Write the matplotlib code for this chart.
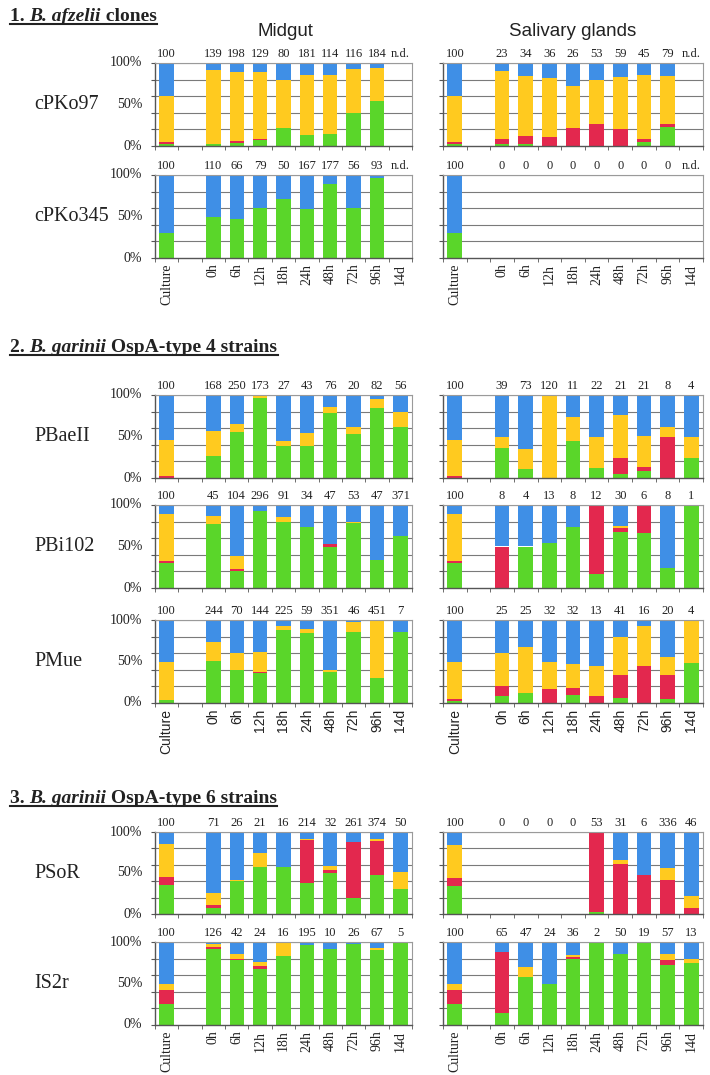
import matplotlib
matplotlib.use('Agg')
import matplotlib.pyplot as plt
from matplotlib.lines import Line2D
import numpy as np

nan = np.nan
categories = ['Culture', '0h', '6h', '12h', '18h', '24h', '48h', '72h', '96h', '14d']
slots = [0, 2, 3, 4, 5, 6, 7, 8, 9, 10]

# ---- 1. B. afzelii clones ----
cPKo97_mg_n = ['100', '139', '198', '129', '80', '181', '114', '116', '184', 'n.d.']
cPKo97_mg_green = [2, 2, 4, 7, 22, 13, 14, 40, 54, nan]
cPKo97_mg_red = [3, 0, 2, 2, 0, 0, 0, 0, 0, nan]
cPKo97_mg_yellow = [55, 90, 83, 80, 58, 73, 71, 53, 40, nan]
cPKo97_mg_blue = [40, 8, 11, 11, 20, 14, 15, 7, 6, nan]

cPKo97_sg_n = ['100', '23', '34', '36', '26', '53', '59', '45', '79', 'n.d.']
cPKo97_sg_green = [3, 3, 2, 0, 0, 0, 0, 5, 23, nan]
cPKo97_sg_red = [2, 6, 10, 11, 22, 27, 21, 3, 3, nan]
cPKo97_sg_yellow = [55, 81, 72, 71, 50, 53, 62, 77, 58, nan]
cPKo97_sg_blue = [40, 10, 16, 18, 28, 20, 17, 15, 16, nan]

cPKo345_mg_n = ['100', '110', '66', '79', '50', '167', '177', '56', '93', 'n.d.']
cPKo345_mg_green = [30, 49, 47, 60, 71, 59, 89, 60, 96, nan]
cPKo345_mg_red = [0, 0, 0, 0, 0, 0, 0, 0, 0, nan]
cPKo345_mg_yellow = [0, 0, 0, 0, 0, 0, 0, 0, 0, nan]
cPKo345_mg_blue = [70, 51, 53, 40, 29, 41, 11, 40, 4, nan]

cPKo345_sg_n = ['100', '0', '0', '0', '0', '0', '0', '0', '0', 'n.d.']
cPKo345_sg_green = [30, nan, nan, nan, nan, nan, nan, nan, nan, nan]
cPKo345_sg_red = [0, nan, nan, nan, nan, nan, nan, nan, nan, nan]
cPKo345_sg_yellow = [0, nan, nan, nan, nan, nan, nan, nan, nan, nan]
cPKo345_sg_blue = [70, nan, nan, nan, nan, nan, nan, nan, nan, nan]

# ---- 2. B. garinii OspA-type 4 strains ----
PBaeII_mg_n = ['100', '168', '250', '173', '27', '43', '76', '20', '82', '56']
PBaeII_mg_green = [0, 26, 55, 96, 39, 39, 78, 53, 84, 62]
PBaeII_mg_red = [3, 0, 0, 0, 0, 0, 0, 0, 0, 0]
PBaeII_mg_yellow = [43, 31, 10, 4, 6, 15, 8, 9, 11, 18]
PBaeII_mg_blue = [54, 43, 35, 0, 55, 46, 14, 38, 5, 20]

PBaeII_sg_n = ['100', '39', '73', '120', '11', '22', '21', '21', '8', '4']
PBaeII_sg_green = [0, 36, 11, 0, 45, 12, 5, 8, 0, 24]
PBaeII_sg_red = [3, 0, 0, 0, 0, 0, 19, 5, 50, 0]
PBaeII_sg_yellow = [43, 13, 24, 100, 28, 37, 52, 38, 12, 26]
PBaeII_sg_blue = [54, 51, 65, 0, 27, 51, 24, 49, 38, 50]

PBi102_mg_n = ['100', '45', '104', '296', '91', '34', '47', '53', '47', '371']
PBi102_mg_green = [30, 77, 21, 93, 80, 73, 49, 78, 34, 63]
PBi102_mg_red = [2, 0, 2, 0, 0, 0, 4, 0, 0, 0]
PBi102_mg_yellow = [57, 10, 16, 0, 6, 0, 0, 2, 0, 0]
PBi102_mg_blue = [11, 13, 61, 7, 14, 27, 47, 20, 66, 37]

PBi102_sg_n = ['100', '8', '4', '13', '8', '12', '30', '6', '8', '1']
PBi102_sg_green = [30, 0, 50, 54, 74, 17, 68, 66, 24, 100]
PBi102_sg_red = [2, 50, 0, 0, 0, 83, 4, 34, 0, 0]
PBi102_sg_yellow = [57, 0, 0, 0, 0, 0, 3, 0, 0, 0]
PBi102_sg_blue = [11, 50, 50, 46, 26, 0, 25, 0, 76, 0]

PMue_mg_n = ['100', '244', '70', '144', '225', '59', '351', '46', '451', '7']
PMue_mg_green = [4, 51, 40, 36, 88, 84, 37, 86, 30, 85]
PMue_mg_red = [0, 0, 0, 1, 0, 0, 0, 0, 0, 0]
PMue_mg_yellow = [46, 22, 20, 24, 5, 5, 3, 11, 69, 0]
PMue_mg_blue = [50, 27, 40, 39, 7, 11, 60, 3, 1, 15]

PMue_sg_n = ['100', '25', '25', '32', '32', '13', '41', '16', '20', '4']
PMue_sg_green = [3, 8, 12, 0, 10, 0, 6, 0, 5, 48]
PMue_sg_red = [2, 12, 0, 17, 8, 8, 28, 44, 29, 0]
PMue_sg_yellow = [44, 40, 55, 32, 29, 37, 46, 49, 21, 52]
PMue_sg_blue = [51, 40, 33, 51, 53, 55, 20, 7, 45, 0]

# ---- 3. B. garinii OspA-type 6 strains ----
PSoR_mg_n = ['100', '71', '26', '21', '16', '214', '32', '261', '374', '50']
PSoR_mg_green = [35, 7, 40, 57, 57, 38, 50, 19, 48, 31]
PSoR_mg_red = [10, 4, 0, 0, 0, 52, 4, 69, 41, 0]
PSoR_mg_yellow = [40, 15, 2, 18, 0, 2, 5, 0, 2, 20]
PSoR_mg_blue = [15, 74, 58, 25, 43, 8, 41, 12, 9, 49]

PSoR_sg_n = ['100', '0', '0', '0', '0', '53', '31', '6', '336', '46']
PSoR_sg_green = [34, nan, nan, nan, nan, 3, 0, 0, 0, 0]
PSoR_sg_red = [10, nan, nan, nan, nan, 97, 61, 48, 41, 7]
PSoR_sg_yellow = [40, nan, nan, nan, nan, 0, 5, 0, 15, 15]
PSoR_sg_blue = [16, nan, nan, nan, nan, 0, 34, 52, 44, 78]

IS2r_mg_n = ['100', '126', '42', '24', '16', '195', '10', '26', '67', '5']
IS2r_mg_green = [25, 92, 78, 68, 83, 96, 92, 97, 90, 100]
IS2r_mg_red = [17, 2, 2, 3, 0, 0, 0, 0, 0, 0]
IS2r_mg_yellow = [8, 3, 5, 5, 17, 0, 0, 0, 3, 0]
IS2r_mg_blue = [50, 3, 15, 24, 0, 4, 8, 3, 7, 0]

IS2r_sg_n = ['100', '65', '47', '24', '36', '2', '50', '19', '57', '13']
IS2r_sg_green = [25, 15, 58, 49, 80, 100, 85, 100, 72, 75]
IS2r_sg_red = [17, 73, 0, 0, 2, 0, 0, 0, 6, 0]
IS2r_sg_yellow = [8, 0, 12, 0, 2, 0, 0, 0, 8, 5]
IS2r_sg_blue = [50, 12, 30, 51, 16, 0, 15, 0, 14, 20]

C_GREEN = '#5ad62a'
C_RED = '#e3284e'
C_YELLOW = '#ffca1f'
C_BLUE = '#3f8fe6'

SERIF = ['Liberation Serif', 'DejaVu Serif']
SANS = ['Liberation Sans', 'DejaVu Sans']

W, H = 710, 1075
fig = plt.figure(figsize=(W / 100, H / 100), dpi=100)


def ax_at(x0, x1, y0, y1):
    return fig.add_axes([x0 / W, 1 - y1 / H, (x1 - x0) / W, (y1 - y0) / H])


def panel(x0, x1, y0, y1, counts, g, r, yv, b, ylabels, xlabels, xfam):
    ax = ax_at(x0, x1, y0, y1)
    ax.set_xlim(-0.5, 10.5)
    ax.set_ylim(0, 100)
    for yy in [20, 40, 60, 80, 100]:
        ax.axhline(yy, color='#7a7a7a', lw=0.8, zorder=0)
    g = np.array(g, float); r = np.array(r, float)
    yv = np.array(yv, float); b = np.array(b, float)
    wdt = 0.62
    ax.bar(slots, g, width=wdt, color=C_GREEN, zorder=2, linewidth=0)
    ax.bar(slots, r, width=wdt, bottom=g, color=C_RED, zorder=2, linewidth=0)
    ax.bar(slots, yv, width=wdt, bottom=g + r, color=C_YELLOW, zorder=2, linewidth=0)
    ax.bar(slots, b, width=wdt, bottom=g + r + yv, color=C_BLUE, zorder=2, linewidth=0)
    for s, c in zip(slots, counts):
        ax.text(s, 104, c, ha='center', va='bottom', fontsize=9, family=SERIF, color='#222')
    for side in ['top', 'right']:
        ax.spines[side].set_color('#9a9a9a')
        ax.spines[side].set_linewidth(0.8)
    for side in ['left', 'bottom']:
        ax.spines[side].set_color('#555555')
        ax.spines[side].set_linewidth(1.0)
    ax.set_yticks([0, 20, 40, 60, 80, 100])
    ax.set_yticklabels([])
    ax.tick_params(axis='y', length=3, color='#555555')
    ax.set_xticks(np.arange(-0.5, 11, 1.0), minor=True)
    ax.tick_params(axis='x', which='minor', length=3, color='#555555')
    ax.set_xticks(slots)
    if xlabels:
        ax.set_xticklabels(categories, rotation=90, fontsize=10, family=xfam, color='#222')
        ax.tick_params(axis='x', which='major', length=0, pad=4)
    else:
        ax.set_xticklabels([])
        ax.tick_params(axis='x', which='major', length=0)
    if ylabels:
        tr = ax.get_yaxis_transform()
        for v, lab in [(0, '0%'), (50, '50%'), (100, '100%')]:
            ax.text(-13 / (x1 - x0), v, lab, transform=tr, ha='right', va='center',
                    fontsize=10, family=SERIF, color='#222')
    return ax


MG = (155, 412)
SG = (443, 703)

rows = [
    ('cPKo97', 63, 146, False, SERIF,
     (cPKo97_mg_n, cPKo97_mg_green, cPKo97_mg_red, cPKo97_mg_yellow, cPKo97_mg_blue),
     (cPKo97_sg_n, cPKo97_sg_green, cPKo97_sg_red, cPKo97_sg_yellow, cPKo97_sg_blue)),
    ('cPKo345', 175, 258, True, SERIF,
     (cPKo345_mg_n, cPKo345_mg_green, cPKo345_mg_red, cPKo345_mg_yellow, cPKo345_mg_blue),
     (cPKo345_sg_n, cPKo345_sg_green, cPKo345_sg_red, cPKo345_sg_yellow, cPKo345_sg_blue)),
    ('PBaeII', 395, 478, False, SERIF,
     (PBaeII_mg_n, PBaeII_mg_green, PBaeII_mg_red, PBaeII_mg_yellow, PBaeII_mg_blue),
     (PBaeII_sg_n, PBaeII_sg_green, PBaeII_sg_red, PBaeII_sg_yellow, PBaeII_sg_blue)),
    ('PBi102', 505, 588, False, SERIF,
     (PBi102_mg_n, PBi102_mg_green, PBi102_mg_red, PBi102_mg_yellow, PBi102_mg_blue),
     (PBi102_sg_n, PBi102_sg_green, PBi102_sg_red, PBi102_sg_yellow, PBi102_sg_blue)),
    ('PMue', 620, 703, True, SANS,
     (PMue_mg_n, PMue_mg_green, PMue_mg_red, PMue_mg_yellow, PMue_mg_blue),
     (PMue_sg_n, PMue_sg_green, PMue_sg_red, PMue_sg_yellow, PMue_sg_blue)),
    ('PSoR', 832, 914, False, SERIF,
     (PSoR_mg_n, PSoR_mg_green, PSoR_mg_red, PSoR_mg_yellow, PSoR_mg_blue),
     (PSoR_sg_n, PSoR_sg_green, PSoR_sg_red, PSoR_sg_yellow, PSoR_sg_blue)),
    ('IS2r', 942, 1025, True, SERIF,
     (IS2r_mg_n, IS2r_mg_green, IS2r_mg_red, IS2r_mg_yellow, IS2r_mg_blue),
     (IS2r_sg_n, IS2r_sg_green, IS2r_sg_red, IS2r_sg_yellow, IS2r_sg_blue)),
]

for name, y0, y1, xl, xfam, mg, sg in rows:
    panel(MG[0], MG[1], y0, y1, *mg, ylabels=True, xlabels=xl, xfam=xfam)
    panel(SG[0], SG[1], y0, y1, *sg, ylabels=False, xlabels=xl, xfam=xfam)
    fig.text(34 / W, 1 - ((y0 + y1) / 2) / H, name, ha='left', va='center',
             fontsize=14.5, family=SERIF, color='#222')

fig.text(285 / W, 1 - 32 / H, 'Midgut', ha='center', va='center', fontsize=13.5,
         family=SANS, color='#222')
fig.text(573 / W, 1 - 32 / H, 'Salivary glands', ha='center', va='center', fontsize=13.5,
         family=SANS, color='#222')

renderer = fig.canvas.get_renderer()


def header(ypix, parts):
    x = 10
    ybase = 1 - ypix / H
    for txt, style in parts:
        t = fig.text(x / W, ybase, txt, ha='left', va='baseline', fontsize=14,
                     family=SERIF, weight='bold', style=style, color='#222')
        bb = t.get_window_extent(renderer=renderer)
        x += bb.width
    fig.add_artist(Line2D([10 / W, x / W], [ybase - 3 / H, ybase - 3 / H],
                          color='#222', lw=1.5, transform=fig.transFigure))


header(21, [('1. ', 'normal'), ('B. afzelii', 'italic'), (' clones', 'normal')])
header(352, [('2. ', 'normal'), ('B. garinii', 'italic'), (' OspA-type 4 strains', 'normal')])
header(803, [('3. ', 'normal'), ('B. garinii', 'italic'), (' OspA-type 6 strains', 'normal')])

fig.savefig('out.png', dpi=100)
